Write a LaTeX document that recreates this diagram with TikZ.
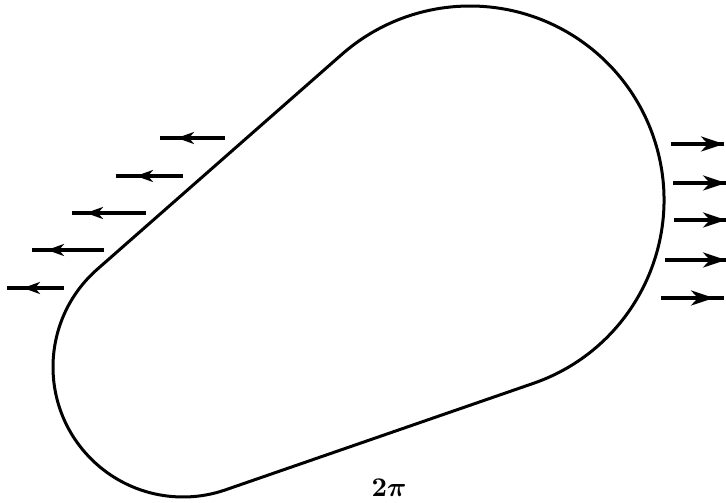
\documentclass[tikz,border=0pt]{standalone}
\usepackage{amsmath,bm}
\usetikzlibrary{arrows.meta,calc}
\begin{document}
\begin{tikzpicture}[x=1pt,y=1pt,
  outline/.style={line width=3pt,line join=round},
  flow/.style={line width=3.2pt},
  lhead/.style={line width=3.2pt,-{Stealth[length=17pt,width=12pt,inset=5pt]}},
  rhead/.style={line width=3.2pt,-{Stealth[length=23pt,width=15pt,inset=7pt]}}]
\useasboundingbox (0,0) rectangle (726,503);
% circle centres of the outline
\coordinate (A) at (470,303);
\coordinate (B) at (183,136);
\draw[outline] ($(A)+(-70.9:194)$) arc[start angle=-70.9,end angle=131.3,radius=194]
  -- ($(B)+(131.3:130)$) arc[start angle=131.3,end angle=289.1,radius=130] -- cycle;
% left arrows (pointing left, head part way along)
\foreach \i/\y/\a/\t/\b in {1/365/160/177/225, 2/327/116/136/183, 3/290/72/86/146, 4/253/32/47/104, 5/215/7/23/64}{
  \coordinate (l\i s) at (\b,\y);
  \coordinate (l\i t) at (\t,\y);
  \coordinate (l\i e) at (\a,\y);
  \draw[flow] (l\i s) -- (l\i e);
  \draw[lhead] (l\i s) -- (l\i t);
}
% right arrows
\foreach \i/\y/\a/\t/\b in {1/359/671/724/724, 2/320/673/726/726, 3/283/674/726/726, 4/243/665/726/726, 5/205/661/714/724}{
  \coordinate (r\i s) at (\a,\y);
  \coordinate (r\i t) at (\t,\y);
  \coordinate (r\i e) at (\b,\y);
  \draw[flow] (r\i s) -- (r\i e);
  \draw[rhead] (r\i s) -- (r\i t);
}
\node[scale=2.7] (lab) at (389,15) {$\bm{2\pi}$};
\end{tikzpicture}
\end{document}
